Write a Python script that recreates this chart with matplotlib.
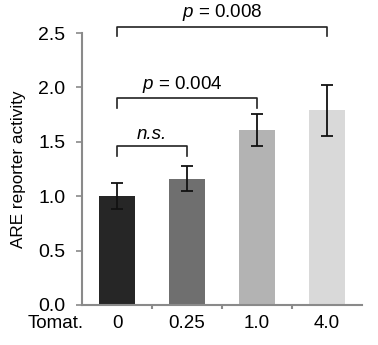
import matplotlib
matplotlib.use("Agg")
import matplotlib.pyplot as plt

# data
doses = ["0", "0.25", "1.0", "4.0"]
activity = [1.0, 1.16, 1.61, 1.79]
err = [0.12, 0.115, 0.15, 0.235]
bar_colors = ["#262626", "#6f6f6f", "#b3b3b3", "#d9d9d9"]
ticks_y = [0.0, 0.5, 1.0, 1.5, 2.0, 2.5]

plt.rcParams['font.family'] = ['Liberation Sans', 'DejaVu Sans']
plt.rcParams['mathtext.fontset'] = 'custom'
plt.rcParams['mathtext.it'] = 'Liberation Sans:italic'
plt.rcParams['mathtext.rm'] = 'Liberation Sans'

fig = plt.figure(figsize=(3.78, 3.45), dpi=100)
ax = fig.add_axes([0.217, 0.116, 0.741, 0.788])

x = list(range(len(doses)))
ax.bar(x, activity, width=0.52, color=bar_colors, zorder=2)
ax.errorbar(x, activity, yerr=err, fmt="none", ecolor="#111111",
            elinewidth=1.3, capsize=4, capthick=1.3, zorder=3)

ax.set_xlim(-0.5, 3.5)
ax.set_ylim(0, 2.5)
ax.set_yticks(ticks_y)
ax.set_yticklabels(["%.1f" % t for t in ticks_y])
ax.set_xticks([0.5, 1.5, 2.5])
ax.set_xticklabels([])
for i, d in enumerate(doses):
    ax.text(i, -0.095, d, ha="center", va="top", fontsize=13.5)
ax.text(-0.87, -0.095, "Tomat.", ha="center", va="top", fontsize=13.5)

ax.set_ylabel("ARE reporter activity", fontsize=12.3, labelpad=9)

for s in ["top", "right"]:
    ax.spines[s].set_visible(False)
for s in ["left", "bottom"]:
    ax.spines[s].set_color("#8a8a8a")
    ax.spines[s].set_linewidth(1.5)
ax.tick_params(axis="y", length=4, color="#8a8a8a", width=1.2, labelsize=14, pad=8)
ax.tick_params(axis="x", length=3, color="#8a8a8a", width=1.5)


def bracket(x1, x2, y, leg, label, tx, ty, italic=False):
    ax.plot([x1, x1, x2, x2], [y - leg, y, y, y - leg], color="#222222",
            lw=1.2, clip_on=False)
    ax.text(tx, ty, label, ha="center", va="bottom", fontsize=13.5,
            style="italic" if italic else "normal", clip_on=False)


bracket(0, 1, 1.46, 0.09, "n.s.", 0.5, 1.49, italic=True)
bracket(0, 2, 1.90, 0.09, "$p$ = 0.004", 0.93, 1.93)
bracket(0, 3, 2.56, 0.09, "$p$ = 0.008", 1.5, 2.59)

fig.savefig("out.png", dpi=100)
